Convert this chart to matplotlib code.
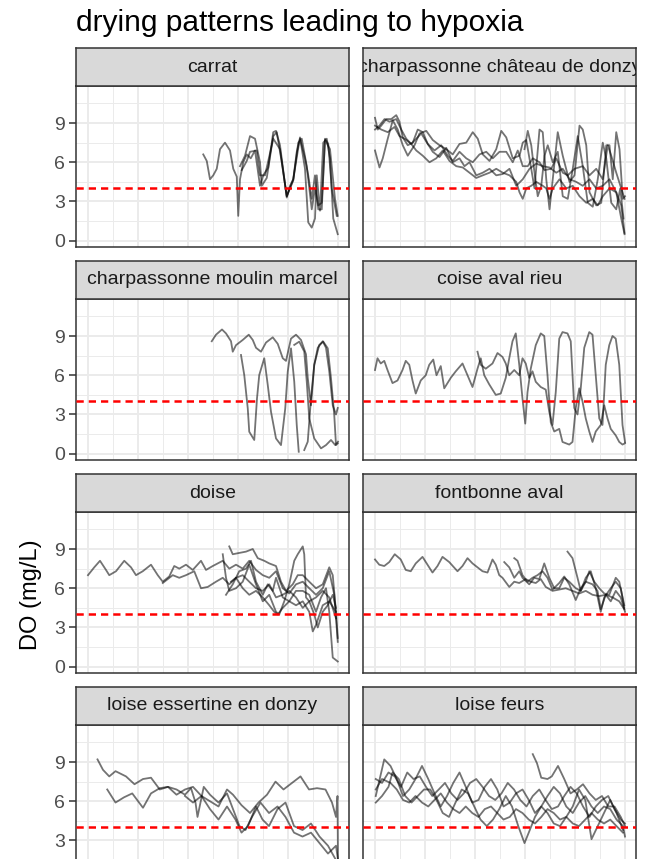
import matplotlib
matplotlib.use("Agg")
import matplotlib.pyplot as plt

plt.rcParams['font.family'] = ['Liberation Sans', 'DejaVu Sans']

# ---- dissolved oxygen traces per site: (day, DO mg/L) ----
carrat = [
    ([4.61, 4.75, 4.88, 5.01, 5.15, 5.28, 5.48, 5.68, 5.81, 5.95, 6.01, 6.08, 6.21, 6.35, 6.51, 6.68, 6.88, 7.01, 7.21,
      7.41, 7.52, 7.68, 7.95, 8.08, 8.21, 8.35, 8.48, 8.68, 8.81, 8.95, 9.08, 9.21, 9.35, 9.48, 9.61, 9.75, 9.95],
     [6.6, 6.1, 4.7, 5.0, 5.5, 7.0, 7.5, 6.9, 5.5, 4.9, 1.9, 4.7, 6.0, 6.6, 6.3, 6.9, 4.2, 5.0, 5.6,
      8.3, 8.4, 7.3, 3.3, 4.2, 4.7, 6.8, 7.8, 6.3, 5.0, 3.2, 5.0, 2.4, 2.4, 7.8, 7.4, 4.0, 1.9]),
    ([6.08, 6.28, 6.48, 6.68, 6.88, 6.95, 7.15, 7.41, 7.55, 7.75, 7.95, 8.21, 8.48, 8.68, 8.81, 8.95, 9.08, 9.15,
      9.28, 9.41, 9.55, 9.68, 9.81, 9.99],
     [5.7, 6.5, 8.0, 7.8, 6.0, 4.2, 4.8, 8.0, 8.3, 6.0, 3.4, 4.7, 7.9, 5.5, 1.4, 1.0, 1.7, 5.0,
      2.3, 7.5, 7.8, 6.3, 1.7, 0.5]),
    ([6.15, 6.35, 6.48, 6.75, 6.88, 7.08, 7.41, 7.68, 7.95, 8.21, 8.41, 8.55, 8.75, 8.95, 9.08, 9.21, 9.35, 9.48,
      9.68, 9.88, 9.99],
     [5.4, 6.1, 6.8, 6.9, 5.0, 5.0, 7.8, 7.0, 3.4, 4.6, 7.5, 7.8, 5.7, 2.4, 4.0, 2.7, 2.9, 7.7,
      7.0, 3.2, 1.9]),
]

chateau_donzy = [
    ([0.0, 0.11, 0.25, 0.45, 0.65, 0.85, 0.98, 1.11, 1.31, 1.51, 1.71, 1.91, 2.11, 2.31, 2.58, 2.85, 3.11, 3.38, 3.58,
      3.78, 4.05, 4.31, 4.58, 4.85, 5.11, 5.38, 5.65, 5.91, 6.18, 6.45, 6.71, 6.98, 7.25, 7.51, 7.78, 8.05, 8.31, 8.58,
      8.85, 9.11, 9.38, 9.65, 9.85, 9.98],
     [9.4, 8.5, 8.8, 9.3, 9.3, 9.6, 9.1, 7.9, 7.3, 7.5, 8.5, 8.3, 7.4, 6.8, 6.4, 7.1, 6.0, 6.3, 5.7,
      6.0, 5.0, 5.2, 5.5, 5.0, 5.1, 5.5, 4.2, 4.7, 5.5, 5.9, 5.7, 5.6, 5.2, 5.5, 4.7, 4.5, 4.2, 4.7,
      4.0, 4.2, 4.7, 3.7, 2.7, 0.6]),
    ([0.0, 0.18, 0.31, 0.51, 0.71, 0.91, 1.11, 1.31, 1.58, 1.78, 2.05, 2.31, 2.58, 2.85, 3.11, 3.38, 3.65, 3.91, 4.11,
      4.31, 4.58, 4.85, 5.05, 5.25, 5.51, 5.78, 5.91, 6.05, 6.25, 6.38, 6.58, 6.71, 6.85, 6.98, 7.11, 7.31, 7.51, 7.78,
      7.98, 8.18, 8.31, 8.45, 8.58, 8.85, 9.05, 9.25, 9.38, 9.51, 9.65, 9.78, 9.91, 10.0],
     [6.9, 5.6, 6.3, 7.8, 9.2, 8.5, 7.3, 6.5, 7.3, 8.2, 8.4, 7.7, 7.3, 7.0, 6.6, 7.4, 7.5, 8.3, 7.8,
      6.6, 6.1, 7.0, 8.4, 7.9, 6.3, 6.5, 7.5, 7.7, 5.5, 4.0, 8.5, 8.3, 4.7, 2.4, 4.7, 8.3, 6.5, 4.5,
      5.0, 8.8, 8.5, 7.3, 3.7, 2.7, 2.9, 7.3, 7.3, 4.7, 8.3, 7.0, 3.2, 3.4]),
    ([0.0, 0.18, 0.38, 0.58, 0.85, 1.05, 1.25, 1.45, 1.65, 1.91, 2.18, 2.45, 2.71, 2.98, 3.25, 3.51, 3.78, 4.05, 4.31,
      4.58, 4.85, 5.11, 5.38, 5.65, 5.78, 5.91, 6.05, 6.25, 6.45, 6.71, 6.85, 6.98, 7.11, 7.38, 7.65, 7.91, 8.18, 8.45,
      8.71, 8.91, 9.11, 9.38, 9.65, 9.85, 9.98],
     [8.5, 8.8, 9.3, 9.1, 9.3, 8.5, 7.8, 7.4, 6.9, 6.5, 6.0, 6.3, 6.9, 6.1, 5.7, 5.6, 5.2, 4.8, 5.0,
      5.2, 5.5, 5.2, 5.0, 4.5, 3.7, 3.2, 4.0, 4.2, 4.5, 4.2, 4.0, 3.2, 4.0, 4.7, 4.0, 4.2, 3.4, 2.9,
      3.2, 2.7, 3.4, 4.0, 3.7, 1.7, 0.5]),
    ([0.0, 0.25, 0.51, 0.78, 0.98, 1.18, 1.45, 1.65, 1.85, 2.11, 2.38, 2.65, 2.91, 3.11, 3.38, 3.65, 3.91, 4.18, 4.45,
      4.71, 4.98, 5.25, 5.51, 5.71, 5.91, 6.11, 6.31, 6.58, 6.78, 7.05, 7.25, 7.51, 7.71, 7.98, 8.31, 8.58, 8.85, 9.11,
      9.31, 9.45, 9.65, 9.85, 9.98],
     [8.8, 8.5, 8.3, 8.7, 8.0, 7.8, 7.4, 7.8, 8.2, 7.4, 6.9, 7.3, 6.5, 6.1, 6.8, 6.3, 6.0, 6.6, 6.8,
      6.3, 6.8, 6.8, 6.0, 6.9, 5.7, 5.7, 6.3, 6.0, 5.4, 5.5, 6.3, 5.2, 5.0, 5.5, 5.7, 5.0, 5.5, 4.7,
      7.3, 6.5, 5.2, 4.0, 3.2]),
    ([5.98, 6.11, 6.25, 6.38, 6.51, 6.65, 6.78, 6.91, 7.11, 7.31, 7.51, 7.71, 7.91, 8.11, 8.31, 8.51, 8.71, 8.91,
      9.11, 9.25, 9.45, 9.65, 9.81, 9.94],
     [7.0, 8.4, 7.3, 5.2, 3.4, 4.2, 6.5, 7.3, 6.0, 6.8, 3.4, 3.2, 5.5, 8.0, 5.7, 2.9, 2.6, 4.7,
      7.5, 6.3, 2.9, 2.4, 4.0, 1.7]),
]

moulin_marcel = [
    ([4.95, 5.12, 5.36, 5.52, 5.72, 5.79, 5.92, 6.19, 6.43, 6.59, 6.72, 6.92, 7.12, 7.39, 7.59, 7.79, 7.92, 8.12,
      8.32, 8.52, 8.72, 8.79, 8.92, 9.05, 9.19, 9.39, 9.52, 9.65, 9.79, 9.92, 9.99],
     [8.6, 9.1, 9.5, 9.2, 8.6, 7.8, 8.3, 8.7, 9.1, 8.7, 8.1, 7.8, 8.5, 8.9, 8.4, 7.3, 7.1, 8.8,
      9.1, 8.7, 7.6, 5.8, 3.7, 6.8, 8.1, 8.6, 8.1, 6.3, 3.7, 3.0, 3.5]),
    ([6.12, 6.25, 6.39, 6.45, 6.65, 6.76, 6.85, 7.05, 7.19, 7.32, 7.52, 7.72, 7.89, 7.99, 8.12, 8.25, 8.35, 8.43],
     [7.55, 6.02, 3.47, 1.68, 1.05, 4.23, 6.02, 7.30, 5.26, 3.21, 1.17, 0.66, 3.47, 6.28, 8.06, 5.51, 2.19, 0.15]),
    ([8.65, 8.79, 8.92, 9.05, 9.25, 9.41, 9.59, 9.72, 9.85, 9.92, 9.99],
     [0.28, 0.92, 4.23, 6.79, 8.32, 8.57, 8.06, 5.77, 2.96, 0.66, 0.79]),
    ([8.25, 8.45, 8.65, 8.75, 8.85, 9.05, 9.32, 9.52, 9.72, 9.89, 10.0],
     [8.32, 8.57, 7.81, 5.51, 2.70, 1.17, 0.41, 0.66, 1.05, 0.66, 0.92]),
]

coise_aval_rieu = [
    ([0.0, 0.1, 0.23, 0.37, 0.5, 0.7, 0.9, 1.1, 1.23, 1.37, 1.5, 1.63, 1.83, 2.03, 2.17, 2.33, 2.46, 2.63, 2.77, 3.03,
      3.23, 3.5, 3.7, 3.9, 4.1, 4.23, 4.37, 4.57, 4.83, 5.03, 5.23, 5.37, 5.5, 5.63, 5.77, 5.9, 6.01, 6.1, 6.23, 6.43,
      6.63, 6.77, 6.9, 7.03, 7.17, 7.37, 7.5, 7.77, 7.9, 8.03, 8.17, 8.3, 8.43, 8.57, 8.7, 8.83, 9.03, 9.17, 9.3, 9.43,
      9.63, 9.77, 9.9, 10.0],
     [6.4, 7.3, 6.9, 7.1, 6.4, 5.4, 5.6, 6.4, 7.1, 6.8, 5.6, 4.6, 5.6, 6.0, 6.8, 7.2, 6.0, 6.7, 5.0, 5.8,
      6.3, 6.9, 6.0, 5.1, 6.5, 7.3, 6.0, 5.3, 4.5, 4.6, 5.8, 7.3, 8.6, 9.2, 6.8, 4.2, 2.3, 4.7, 6.5, 8.3,
      9.2, 9.0, 6.0, 2.4, 1.7, 1.9, 0.9, 0.7, 0.9, 3.5, 5.0, 4.0, 2.7, 1.7, 0.9, 1.7, 2.2, 3.7, 2.7, 1.9,
      1.4, 0.9, 0.7, 0.8]),
    ([4.1, 4.23, 4.43, 4.7, 4.9, 5.1, 5.23, 5.37, 5.57, 5.77, 5.9, 6.03, 6.17, 6.3, 6.43, 6.63, 6.83, 6.97, 7.1, 7.23,
      7.37, 7.5, 7.7, 7.83, 7.97, 8.1, 8.23, 8.37, 8.57, 8.7, 8.83, 8.97, 9.1, 9.23, 9.37, 9.5, 9.63, 9.77, 9.9, 10.0],
     [7.8, 6.8, 6.5, 6.9, 7.7, 7.4, 6.9, 6.0, 6.4, 6.0, 7.3, 6.9, 5.8, 6.3, 5.5, 5.1, 4.9, 3.2, 2.2, 4.7,
      8.8, 9.3, 9.2, 8.6, 3.5, 3.0, 5.0, 8.1, 9.3, 9.1, 6.0, 2.7, 2.2, 6.8, 8.3, 9.0, 8.8, 6.8, 2.2, 0.9]),
]

doise = [
    ([0.0, 0.25, 0.48, 0.72, 0.85, 1.12, 1.45, 1.72, 1.92, 2.19, 2.52, 2.79, 2.99, 3.25, 3.45, 3.65, 3.92, 4.19, 4.52,
      4.72, 4.99, 5.39, 5.65, 5.92, 6.19, 6.45, 6.72, 6.99, 7.25, 7.52, 7.79, 8.05, 8.32, 8.59, 8.85, 9.12, 9.39, 9.65,
      9.85, 9.99],
     [7.0, 7.6, 8.1, 7.4, 7.0, 7.3, 8.1, 7.6, 7.0, 7.3, 7.8, 7.0, 6.5, 6.9, 7.7, 7.5, 7.8, 7.4, 8.1,
      7.4, 7.7, 8.1, 7.5, 7.8, 7.5, 8.1, 7.4, 7.0, 6.8, 7.3, 6.0, 5.6, 6.3, 6.5, 6.0, 5.5, 6.0, 7.3,
      5.5, 1.9]),
    ([2.99, 3.39, 3.65, 3.92, 4.25, 4.52, 4.79, 5.12, 5.39, 5.65, 5.92, 6.19, 6.45, 6.72, 6.99, 7.25, 7.52, 7.79,
      8.05, 8.32, 8.59, 8.85, 9.12, 9.39, 9.65, 9.92],
     [6.4, 7.0, 6.8, 7.0, 7.3, 6.0, 6.1, 6.5, 6.8, 6.3, 6.8, 7.0, 6.5, 6.0, 5.8, 6.3, 5.3, 5.5,
      5.8, 5.3, 4.5, 5.0, 5.3, 5.8, 5.3, 3.7]),
    ([5.65, 5.79, 6.05, 6.32, 6.59, 6.79, 7.05, 7.25, 7.52, 7.72, 7.92, 8.19, 8.39, 8.59, 8.85, 9.12, 9.39, 9.65,
      9.79, 9.92, 9.99],
     [9.2, 8.6, 8.7, 8.8, 9.0, 8.3, 8.1, 7.9, 7.7, 6.5, 5.8, 6.3, 7.0, 7.0, 6.5, 6.0, 6.3, 7.6,
      7.0, 4.2, 2.2]),
    ([5.39, 5.52, 5.65, 5.92, 6.19, 6.45, 6.72, 6.99, 7.25, 7.52, 7.65, 7.85, 8.05, 8.25, 8.39, 8.59, 8.65, 8.72,
      8.85, 9.05, 9.19, 9.39, 9.59, 9.79, 9.92],
     [8.6, 6.8, 5.8, 6.0, 6.5, 7.8, 6.3, 5.0, 5.5, 4.2, 4.0, 5.0, 6.3, 8.1, 8.6, 9.2, 8.6, 5.3,
      5.0, 4.0, 3.0, 4.2, 4.7, 5.5, 4.5]),
    ([5.52, 5.79, 6.05, 6.32, 6.52, 6.72, 6.99, 7.19, 7.39, 7.52, 7.79, 8.05, 8.32, 8.59, 8.85, 9.12, 9.32, 9.52,
      9.65, 9.79, 9.99],
     [5.5, 6.3, 7.3, 7.5, 8.1, 6.5, 5.5, 6.3, 5.8, 6.8, 5.3, 5.0, 5.8, 5.8, 5.5, 4.2, 5.3, 6.0,
      4.2, 0.7, 0.4]),
    ([5.72, 5.92, 6.19, 6.45, 6.72, 6.99, 7.25, 7.45, 7.59, 7.79, 8.05, 8.32, 8.59, 8.85, 8.99, 9.12, 9.39, 9.65, 9.92],
     [6.5, 6.8, 6.0, 5.5, 5.8, 5.3, 4.7, 4.2, 4.0, 4.5, 5.0, 4.7, 5.0, 4.2, 2.7, 3.2, 4.7, 5.0, 4.2]),
]

fontbonne_aval = [
    ([0.0, 0.17, 0.37, 0.57, 0.79, 1.03, 1.23, 1.43, 1.63, 1.9, 2.1, 2.3, 2.5, 2.7, 2.97, 3.3, 3.5, 3.7, 3.9, 4.1,
      4.3, 4.5, 4.7, 4.83, 4.97, 5.1, 5.37, 5.57, 5.77, 6.03, 6.23, 6.43, 6.63, 6.83, 7.1, 7.37, 7.63, 7.9, 8.17, 8.43,
      8.7, 8.97, 9.23, 9.5, 9.77, 9.97],
     [8.2, 7.8, 7.7, 8.0, 8.6, 8.2, 7.4, 7.3, 7.9, 8.4, 7.8, 7.2, 7.7, 8.4, 8.0, 7.3, 7.7, 8.3, 7.9, 7.6,
      7.3, 7.2, 8.2, 7.8, 7.0, 6.8, 6.1, 6.5, 6.4, 6.7, 6.5, 6.4, 6.7, 6.1, 5.8, 5.9, 6.0, 5.8, 5.6, 5.8,
      5.5, 5.4, 5.5, 5.3, 5.0, 4.4]),
    ([5.17, 5.37, 5.57, 5.77, 5.9, 6.17, 6.37, 6.57, 6.77, 6.97, 7.17, 7.37, 7.57, 7.77, 8.03, 8.23, 8.43, 8.63,
      8.83, 9.03, 9.17, 9.43, 9.63, 9.83, 9.97],
     [8.0, 7.6, 6.8, 7.3, 6.8, 6.3, 6.8, 6.7, 7.9, 6.8, 6.0, 6.0, 6.8, 6.5, 6.0, 5.8, 6.8, 7.3,
      6.0, 4.2, 5.3, 6.0, 6.5, 6.0, 4.5]),
    ([5.57, 5.7, 5.9, 6.1, 6.3, 6.5, 6.7, 6.9, 7.1, 7.37, 7.57, 7.77, 8.03, 8.23, 8.43, 8.57, 8.77, 8.97,
      9.17, 9.37, 9.63, 9.77, 9.97],
     [8.3, 8.1, 7.0, 6.5, 6.8, 7.0, 7.3, 6.8, 5.9, 6.4, 6.9, 6.3, 5.1, 6.0, 6.5, 7.3, 6.5, 6.0,
      5.6, 5.5, 6.8, 6.5, 4.7]),
    ([7.7, 7.9, 8.1, 8.23, 8.43, 8.7, 8.9, 9.03, 9.23, 9.43, 9.63, 9.83, 10.0],
     [8.8, 8.3, 6.8, 5.8, 6.5, 6.3, 5.8, 4.4, 5.5, 5.0, 5.8, 5.3, 4.2]),
]

essertine_donzy = [
    ([0.38, 0.6, 0.85, 1.1, 1.52, 1.86, 2.2, 2.52, 2.87, 3.2, 3.54, 3.88, 4.12, 4.3, 4.38, 4.63, 4.88, 5.22, 5.56,
      5.8, 6.06, 6.3, 6.56, 6.9, 7.24, 7.58, 7.9, 8.24, 8.58, 8.92, 9.26, 9.6, 9.92, 10.0],
     [9.2, 8.4, 7.9, 8.3, 7.9, 7.3, 7.7, 7.8, 6.9, 7.1, 6.9, 6.5, 7.0, 5.9, 4.8, 7.1, 6.5, 5.9, 6.6,
      5.4, 4.1, 3.8, 4.8, 5.9, 5.1, 5.6, 4.8, 3.6, 3.3, 3.6, 2.8, 2.0, 2.6, 1.5]),
    ([0.77, 1.1, 1.44, 1.77, 2.2, 2.52, 2.87, 3.2, 3.54, 3.88, 4.2, 4.54, 4.88, 5.22, 5.56, 5.8, 6.14, 6.48, 6.82,
      7.16, 7.5, 7.82, 8.16, 8.5, 8.84, 9.16, 9.5, 9.76, 9.92, 9.98, 10.0],
     [6.9, 5.9, 6.3, 6.6, 5.5, 6.6, 7.0, 7.1, 6.5, 6.9, 7.1, 6.4, 6.0, 5.6, 6.9, 6.5, 5.7, 5.1, 5.9,
      6.5, 7.5, 6.9, 7.4, 7.9, 6.9, 7.0, 6.9, 5.9, 4.8, 6.4, 1.0]),
    ([3.88, 4.2, 4.54, 4.88, 5.22, 5.56, 5.9, 6.14, 6.4, 6.72, 6.98, 7.24, 7.58, 7.9, 8.24, 8.58, 8.92, 9.26, 9.6, 9.92],
     [6.4, 5.9, 6.4, 5.4, 4.6, 5.6, 4.6, 3.6, 4.1, 5.6, 4.6, 4.1, 5.4, 5.9, 4.1, 3.8, 4.3, 3.3, 2.6, 1.5]),
]

loise_feurs = [
    ([0.03, 0.2, 0.37, 0.62, 0.87, 1.12, 1.37, 1.62, 1.88, 2.13, 2.38, 2.63, 2.88, 3.13, 3.38, 3.63, 3.89, 4.14,
      4.39, 4.64, 4.89, 5.14, 5.39, 5.64, 5.9, 6.15, 6.4, 6.65, 6.9, 7.15, 7.4, 7.65, 7.91, 8.16, 8.41, 8.66, 8.91,
      9.16, 9.41, 9.66, 9.92, 10.0],
     [6.4, 7.8, 9.2, 8.7, 7.7, 6.4, 6.9, 7.7, 8.7, 7.7, 6.6, 5.6, 6.4, 7.4, 8.2, 7.1, 5.9, 6.1,
      7.1, 7.7, 6.9, 5.6, 5.9, 6.6, 6.9, 6.1, 5.1, 5.6, 6.4, 7.1, 6.6, 5.6, 5.1, 5.9, 6.4, 5.6, 5.1,
      5.6, 5.4, 4.6, 4.1, 3.3]),
    ([0.03, 0.28, 0.54, 0.7, 0.95, 1.21, 1.46, 1.71, 1.96, 2.21, 2.46, 2.71, 2.96, 3.22, 3.47, 3.72, 3.97, 4.22,
      4.47, 4.72, 4.97, 5.23, 5.48, 5.73, 5.98, 6.15, 6.4, 6.65, 6.9, 7.15, 7.4, 7.65, 7.91, 8.16, 8.41, 8.66, 8.91,
      9.16, 9.41, 9.66, 9.92],
     [5.9, 6.4, 7.1, 8.2, 7.7, 6.4, 5.9, 6.4, 6.9, 6.9, 6.1, 5.1, 4.8, 5.9, 6.9, 6.6, 5.6, 4.6,
      4.1, 4.6, 5.4, 6.4, 5.6, 4.1, 2.8, 3.6, 4.8, 5.6, 5.1, 4.3, 4.1, 4.8, 5.6, 6.9, 6.1, 3.1, 4.1,
      5.1, 6.1, 5.1, 3.8]),
    ([0.03, 0.28, 0.54, 0.79, 1.04, 1.29, 1.54, 1.79, 2.04, 2.29, 2.55, 2.8, 3.05, 3.3, 3.55, 3.8, 4.05, 4.3,
      4.56, 4.81, 5.06, 5.31, 5.56, 5.81, 6.06, 6.31, 6.57, 6.82, 7.07, 7.32, 7.57, 7.82, 8.07, 8.32, 8.58, 8.83,
      9.08, 9.33, 9.58, 9.83, 10.0],
     [7.7, 7.4, 8.2, 7.9, 7.1, 8.2, 7.7, 7.9, 7.1, 6.4, 6.9, 7.4, 6.6, 6.1, 6.6, 7.4, 7.7, 7.1,
      6.4, 6.1, 6.6, 7.4, 6.9, 6.1, 5.6, 6.4, 6.9, 6.1, 5.4, 5.6, 6.4, 7.1, 6.6, 5.6, 4.8, 5.6,
      6.1, 6.4, 5.4, 4.6, 4.3]),
    ([6.31, 6.48, 6.65, 6.9, 7.07, 7.32, 7.57, 7.82, 8.07, 8.32, 8.58, 8.83, 9.08, 9.33, 9.58, 9.83, 10.0],
     [9.6, 8.9, 7.8, 7.7, 7.9, 8.7, 7.7, 6.6, 6.9, 7.3, 6.6, 6.1, 6.4, 5.6, 5.6, 4.8, 4.1]),
    ([0.03, 0.28, 0.62, 0.87, 1.12, 1.37, 1.62, 1.88, 2.13, 2.38, 2.63, 2.88, 3.13, 3.38, 3.63, 3.89, 4.14, 4.39,
      4.64, 4.89, 5.14, 5.39, 5.64, 5.9, 6.15, 6.4, 6.65, 6.9, 7.15, 7.4, 7.65, 7.91, 8.16, 8.41, 8.66, 8.91, 9.16,
      9.41, 9.66, 9.92],
     [6.9, 7.7, 7.4, 6.9, 6.1, 5.9, 6.4, 5.9, 5.6, 6.1, 6.6, 5.9, 5.4, 5.1, 5.6, 5.1, 4.8, 5.4,
      5.6, 5.1, 4.6, 4.8, 5.4, 5.1, 4.6, 4.3, 4.8, 5.4, 5.1, 4.6, 4.8, 4.3, 4.1, 4.6, 5.1, 4.6, 4.3,
      4.6, 4.1, 3.6]),
]

site_names = ["carrat", "charpassonne château de donzy", "charpassonne moulin marcel", "coise aval rieu",
              "doise", "fontbonne aval", "loise essertine en donzy", "loise feurs"]
site_traces = [carrat, chateau_donzy, moulin_marcel, coise_aval_rieu,
               doise, fontbonne_aval, essertine_donzy, loise_feurs]
hypoxia_threshold = 4
do_ticks = [0, 3, 6, 9]

# ---- layout (pixels) ----
W, H = 651, 859
COL_LEFT = [76, 363]
PANEL_W, PANEL_H, STRIP_H = 273, 161, 38
ROW_TOP0, ROW_STEP = 86, 213

GRID = '#EBEBEB'
BORDER = '#333333'


def box(left, top, width, height):
    return [left / W, 1 - (top + height) / H, width / W, height / H]


fig = plt.figure(figsize=(W / 100, H / 100), dpi=100)

for i, (name, traces) in enumerate(zip(site_names, site_traces)):
    row, col = divmod(i, 2)
    left = COL_LEFT[col]
    top = ROW_TOP0 + ROW_STEP * row

    ax = fig.add_axes(box(left, top, PANEL_W, PANEL_H))
    ax.set_xlim(-0.48, 10.44)
    ax.set_ylim(-0.48, 11.83)
    ax.set_xticks(range(0, 11, 2))
    ax.set_xticks(range(1, 11, 2), minor=True)
    # the last row runs past the bottom edge, so its 0 label is left blank
    last_row = row == len(site_names) // 2 - 1
    ax.set_yticks(do_ticks, labels=['' if (last_row and v == 0) else str(v) for v in do_ticks])
    ax.set_yticks([1.5, 4.5, 7.5, 10.5], minor=True)
    ax.grid(which='major', color=GRID, lw=1.4)
    ax.grid(which='minor', color=GRID, lw=0.7)
    ax.set_axisbelow(True)
    ax.tick_params(axis='x', which='both', length=0, labelbottom=False)
    ax.tick_params(axis='y', which='minor', length=0)
    if col == 0:
        ax.tick_params(axis='y', which='major', length=5, width=1.1, color=BORDER,
                       labelsize=14, labelcolor='#4D4D4D', pad=3)
    else:
        ax.tick_params(axis='y', which='major', length=0, labelleft=False)
    for sp in ax.spines.values():
        sp.set_color(BORDER)
        sp.set_linewidth(1.1)

    for xs, ys in traces:
        ax.plot(xs, ys, color='black', alpha=0.55, lw=1.3, solid_joinstyle='round')
    ax.axhline(hypoxia_threshold, color='red', lw=1.8, linestyle=(0, (2.9, 2.0)), zorder=3)

    # facet strip
    strip = fig.add_axes(box(left, top - STRIP_H, PANEL_W, STRIP_H))
    strip.set_facecolor('#D9D9D9')
    strip.set_xticks([])
    strip.set_yticks([])
    for sp in strip.spines.values():
        sp.set_color(BORDER)
        sp.set_linewidth(1.1)
    strip.text(0.5, 0.5, name, transform=strip.transAxes, ha='center', va='center',
               fontsize=14, color='#1A1A1A', clip_on=True)

fig.text(76 / W, 1 - 31 / H, "drying patterns leading to hypoxia", fontsize=21.5,
         ha='left', va='baseline', color='black')
fig.text(31 / W, 1 - 595 / H, "DO (mg/L)", fontsize=17, rotation=90,
         ha='center', va='center', color='black')

fig.savefig("out.png", dpi=100)
